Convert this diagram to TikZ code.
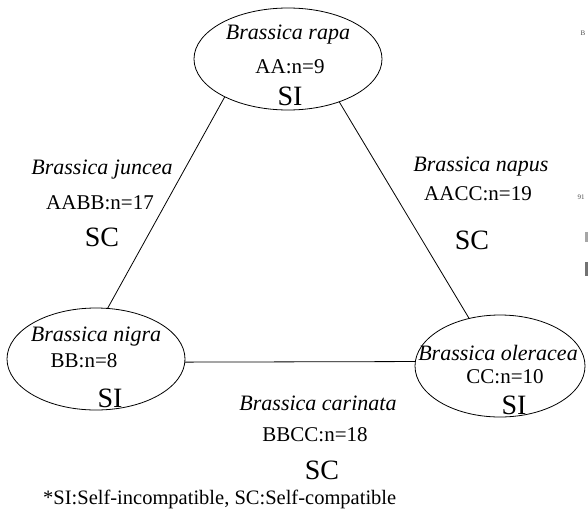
\documentclass[tikz,border=0pt]{standalone}
\usepackage{fontspec}
\setmainfont{Liberation Serif}
\usetikzlibrary{shapes.geometric}
\begin{document}
\begin{tikzpicture}[x=1pt,y=-1pt,
  species/.style={draw, ellipse, line width=0.8pt, inner sep=0pt},
  sp/.style={font=\fontsize{22}{24}\selectfont\itshape, inner sep=0pt},
  gen/.style={font=\fontsize{21}{23}\selectfont, inner sep=0pt},
  comp/.style={font=\fontsize{28}{30}\selectfont, inner sep=0pt},
  note/.style={font=\fontsize{20.5}{22}\selectfont, inner sep=0pt, anchor=west},
  scrap/.style={font=\fontsize{7}{8}\selectfont, inner sep=0pt, text=black!70},
  link/.style={line width=0.8pt}]
\useasboundingbox (0,0) rectangle (588,522);
% species ellipses
\node[species, minimum width=188pt, minimum height=102pt] (rapa) at (288,59) {};
\node[species, minimum width=178pt, minimum height=102pt] (nigra) at (96,359) {};
\node[species, minimum width=170pt, minimum height=102pt] (olera) at (500,366) {};
% texts inside ellipses
\node[sp] (rapaN) at (288,35) {Brassica rapa};
\node[gen] (rapaG) at (290,67) {AA:n=9};
\node[comp] (rapaC) at (290,96) {SI};
\node[sp] (nigraN) at (96,337) {Brassica nigra};
\node[gen] (nigraG) at (84,361) {BB:n=8};
\node[comp] (nigraC) at (110,398) {SI};
\node[sp] (oleraN) at (498,353) {Brassica oleracea};
\node[gen] (oleraG) at (505,377) {CC:n=10};
\node[comp] (oleraC) at (514,405) {SI};
% connectors
\draw[link] (rapa.211) -- (nigra.77);
\draw[link] (rapa.320) -- (olera.123);
\draw[link] (nigra.-2) -- (olera.177);
% hybrid labels
\node[sp] (juncN) at (102,170) {Brassica juncea};
\node[gen] (juncG) at (100,203) {AABB:n=17};
\node[comp] (juncC) at (102,237) {SC};
\node[sp] (napN) at (481,167) {Brassica napus};
\node[gen] (napG) at (478,194) {AACC:n=19};
\node[comp] (napC) at (472,240) {SC};
\node[sp] (carN) at (318,403) {Brassica carinata};
\node[gen] (carG) at (315,435) {BBCC:n=18};
\node[comp] (carC) at (322,470) {SC};
% footnote
\node[note] (foot) at (43,499) {*SI:Self-incompatible, SC:Self-compatible};
% scan fragments at the right edge
\node[scrap] (frB) at (583,33) {B};
\node[scrap] (fr91) at (581,197) {91};
\fill[black!35] (585,232) rectangle (588,242);
\fill[black!55] (585,262) rectangle (588,276);
\end{tikzpicture}
\end{document}
